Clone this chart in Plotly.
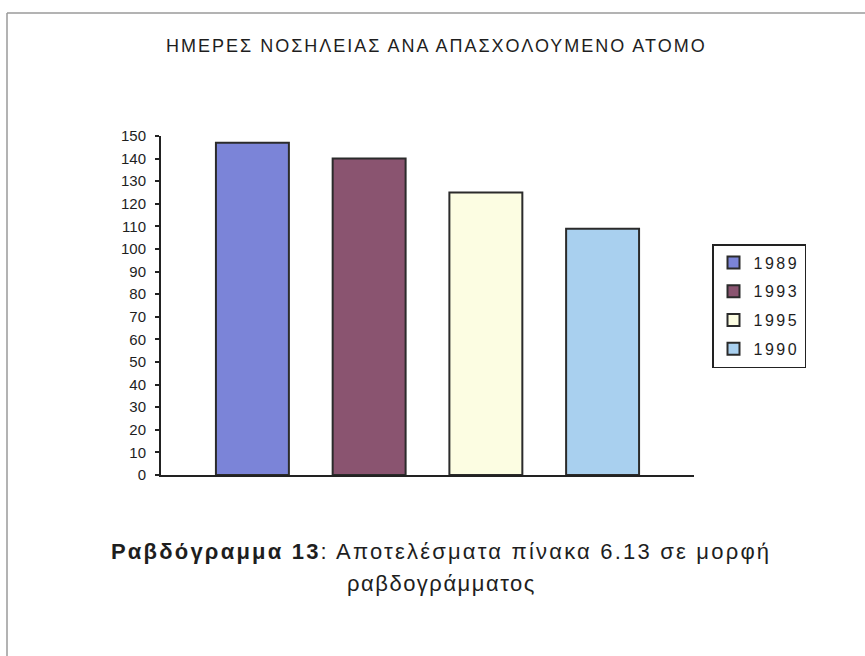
import plotly.graph_objects as go

# Hospital days per employed person, by year
years = ["1989", "1993", "1995", "1990"]
days = [147, 140, 125, 109]
bar_colors = ["#7b84d8", "#8a5470", "#fcfde2", "#a9d0ef"]
group_label = [""]

y_ticks = list(range(0, 151, 10))

title_text = "ΗΜΕΡΕΣ ΝΟΣΗΛΕΙΑΣ ΑΝΑ ΑΠΑΣΧΟΛΟΥΜΕΝΟ ΑΤΟΜΟ"
caption_bold = "Ραβδόγραμμα 13"
caption_rest = ": Αποτελέσματα πίνακα 6.13 σε μορφή"
caption_line2 = "ραβδογράμματος"

W, H = 865, 656
ML, MR, MT, MB = 161, 171, 136, 181
PW, PH = W - ML - MR, H - MT - MB
INK = "#1e1e1e"


def px_x(x):
    return (x - ML) / PW


def px_y(y):
    return (H - MB - y) / PH


def spaced(text, ls):
    return f"<span style='letter-spacing:{ls}px'>{text}</span>"


fig = go.Figure()
for year, val, col in zip(years, days, bar_colors):
    fig.add_trace(go.Bar(
        x=group_label, y=[val], name=spaced(year, 2.5),
        marker=dict(color=col, line=dict(color="#2b2b2b", width=2)),
        legendgroup=year,
    ))

FONT = "Liberation Sans, Arial, sans-serif"

fig.update_layout(
    width=W, height=H,
    margin=dict(l=ML, r=MR, t=MT, b=MB),
    paper_bgcolor="white", plot_bgcolor="white",
    barmode="group", bargap=0.124, bargroupgap=0.375,
    font=dict(family=FONT, color=INK),
    showlegend=True,
    legend=dict(
        x=px_x(712), y=px_y(244), xanchor="left", yanchor="top",
        bgcolor="white", bordercolor="#222222", borderwidth=1.5,
        font=dict(size=16, color=INK, family=FONT),
        traceorder="grouped", tracegroupgap=5,
        itemwidth=30,
    ),
    xaxis=dict(
        showticklabels=False, showgrid=False, zeroline=False,
        showline=True, linecolor="#222222", linewidth=2,
        ticks="",
    ),
    yaxis=dict(
        range=[0, 150], tickvals=y_ticks, showgrid=False, zeroline=False,
        showline=True, linecolor="#222222", linewidth=2,
        ticks="outside", ticklen=4, tickwidth=1.5, tickcolor="#222222",
        tickfont=dict(size=15, color=INK, family=FONT),
        ticklabelstandoff=6,
    ),
    annotations=[
        dict(text=spaced(title_text, 2.0), x=px_x(436), y=px_y(46),
             xref="paper", yref="paper", xanchor="center", yanchor="middle",
             showarrow=False, font=dict(size=18, color=INK, family=FONT)),
        dict(text=spaced(f"<b>{caption_bold}</b>{caption_rest}", 2.2),
             x=px_x(441), y=px_y(551), xref="paper", yref="paper",
             xanchor="center", yanchor="middle",
             showarrow=False, font=dict(size=22, color=INK, family=FONT)),
        dict(text=spaced(caption_line2, 1.5), x=px_x(441), y=px_y(583),
             xref="paper", yref="paper", xanchor="center", yanchor="middle",
             showarrow=False, font=dict(size=22, color=INK, family=FONT)),
    ],
    shapes=[
        dict(type="line", xref="paper", yref="paper",
             x0=px_x(7), x1=px_x(7), y0=px_y(H), y1=px_y(13),
             line=dict(color="#9a9a9a", width=1.5)),
        dict(type="line", xref="paper", yref="paper",
             x0=px_x(7), x1=px_x(W), y0=px_y(13), y1=px_y(13),
             line=dict(color="#9a9a9a", width=1.5)),
    ],
)

fig.write_html("out.html")
